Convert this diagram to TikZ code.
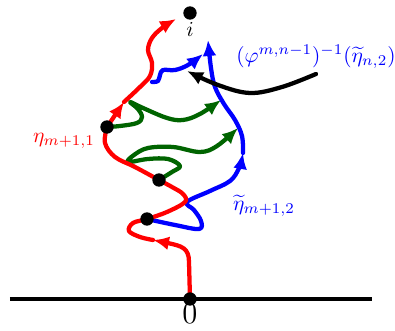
\documentclass[tikz,border=0pt]{standalone}
\usepackage{amsmath,amssymb}
\usetikzlibrary{arrows.meta}
\definecolor{slRed}{HTML}{FF0000}
\definecolor{slBlue}{HTML}{0000FF}
\definecolor{slGreen}{HTML}{006400}
\definecolor{slInk}{HTML}{000000}

\begin{document}
\begin{tikzpicture}[x=0.0165cm,y=-0.0165cm,
    trace/.style={line width=2pt,line cap=round,line join=round},
    tip/.style={-{Latex[length=7.5pt,width=6.5pt]}},
    dot/.style={circle,fill=slInk,inner sep=0pt,minimum size=0.22cm}]
  \useasboundingbox (0,0) rectangle (395,331);
  % points on the traces
  \coordinate (axL) at (10,299);
  \coordinate (axR) at (372,299);
  \coordinate (o) at (190,299);
  \coordinate (p1) at (147,219);
  \coordinate (p2) at (159,180);
  \coordinate (p3) at (107,127);
  \coordinate (ip) at (190,13);
  \coordinate (rA) at (153,240);
  \coordinate (rB) at (124,102);
  \coordinate (bA) at (243,153);
  \draw[slInk,line width=2.2pt] (axL) -- (axR);
  % green
  \draw[slGreen,trace,tip] plot[smooth,tension=0.6] coordinates
    {(p3) (120,126) (137,123) (142,117) (138,109) (130,102) (143,108) (167,118) (183,120) (200,114) (221,100)};
  \draw[slGreen,trace,tip] plot[smooth,tension=0.6] coordinates
    {(p2) (172,172) (180,166) (168,159) (148,159) (128,162) (134,155) (148,148) (173,147) (200,152) (217,146) (238,128)};
  % blue
  \draw[slBlue,trace,tip] plot[smooth,tension=0.6] coordinates
    {(p1) (175,225) (199,229) (201,221) (194,210) (187,202) (210,191) (230,181) (239,168) (bA)};
  \draw[slBlue,trace,tip] plot[smooth,tension=0.6] coordinates
    {(bA) (242,136) (235,120) (224,104) (215,87) (211,68) (208,40)};
  \draw[slBlue,trace,tip] plot[smooth,tension=0.6] coordinates
    {(152,82) (158,81) (160,75) (163,70) (175,70) (188,65) (203,54)};
  % red
  \draw[slRed,trace,tip] (o) -- (189,262) .. controls (189,248) and (182,246) .. (rA);
  \draw[slRed,trace] plot[smooth,tension=0.6] coordinates
    {(rA) (140,237) (129,231) (133,223) (p1) (167,212) (185,202) (183,194) (172,187) (p2) (135,167) (115,157) (105,143) (p3)};
  \draw[slRed,trace,tip] (p3) -- (rB);
  \draw[slRed,trace,tip] plot[smooth,tension=0.6] coordinates
    {(rB) (140,87) (150,76) (152,63) (148,50) (152,38) (162,28) (176,19)};
  % black
  \draw[slInk,trace,tip] plot[smooth,tension=0.6] coordinates
    {(316,74) (282,87) (250,93) (218,85) (187,71)};
  % dots
  \foreach \p in {o,p1,p2,p3,ip}
    \node[dot] at (\p) {};
  \node at (190,29) {$i$};
  \node at (190,314) {\Large $0$};
  \node[slRed] at (64,141) {$\eta_{m+1,1}$};
  \node[slBlue] at (264,206) {$\widetilde{\eta}_{m+1,2}$};
  \node[slBlue] at (316,57) {$(\varphi^{m,n-1})^{-1}(\widetilde{\eta}_{n,2})$};
\end{tikzpicture}
\end{document}
